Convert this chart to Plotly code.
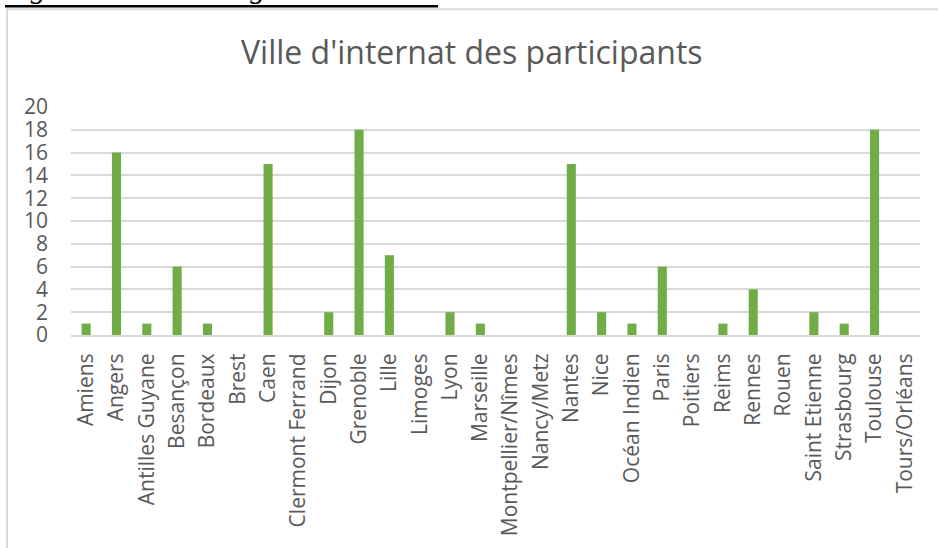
import plotly.graph_objects as go

# ------------------------------------------------------------
# Données : ville d'internat des participants
# ------------------------------------------------------------
villes = [
    "Amiens", "Angers", "Antilles Guyane", "Besançon", "Bordeaux", "Brest",
    "Caen", "Clermont Ferrand", "Dijon", "Grenoble", "Lille", "Limoges",
    "Lyon", "Marseille", "Montpellier/Nîmes", "Nancy/Metz", "Nantes", "Nice",
    "Océan Indien", "Paris", "Poitiers", "Reims", "Rennes", "Rouen",
    "Saint Etienne", "Strasbourg", "Toulouse", "Tours/Orléans",
]
participants = [
    1, 16, 1, 6, 1, 0,
    15, 0, 2, 18, 7, 0,
    2, 1, 0, 0, 15, 2,
    1, 6, 0, 1, 4, 0,
    2, 1, 18, 0,
]
y_ticks = list(range(0, 21, 2))

titre = "Ville d'internat des participants"
legende = "Figure 3 : Ville d'origine d'internat"

# ------------------------------------------------------------
# Géométrie (pixels) -> coordonnées paper
# ------------------------------------------------------------
W, H = 938, 548
L, R, T, B = 71, 920, 107, 338


def px_x(p):
    return (p - L) / (R - L)


def px_y(p):
    return (B - p) / (B - T)


GRIS = "#595959"
GRILLE = "#d9d9d9"
FONT = "Open Sans, Arial, sans-serif"

fig = go.Figure(
    go.Bar(
        x=villes,
        y=participants,
        marker=dict(color="#70AD47", line=dict(width=0)),
    )
)

fig.update_layout(
    width=W,
    height=H,
    margin=dict(l=L, r=W - R, t=T, b=H - B),
    plot_bgcolor="white",
    paper_bgcolor="white",
    bargap=0.70,
    showlegend=False,
    font=dict(family=FONT, color=GRIS, size=21),
    xaxis=dict(
        tickangle=-90,
        showgrid=False,
        showline=True,
        linecolor=GRILLE,
        linewidth=2,
        ticks="",
        ticklabelstandoff=8,
        tickfont=dict(size=21, color=GRIS),
    ),
    yaxis=dict(
        range=[0, 20],
        tickvals=y_ticks,
        showgrid=True,
        gridcolor=GRILLE,
        gridwidth=1.5,
        zeroline=False,
        showline=False,
        ticks="",
        ticklabelstandoff=22,
        tickfont=dict(size=21, color=GRIS),
    ),
)

# titre du graphique
fig.add_annotation(
    text=titre,
    xref="paper", yref="paper",
    x=px_x(472), y=px_y(51),
    xanchor="center", yanchor="middle",
    showarrow=False,
    font=dict(family=FONT, size=32, color=GRIS),
)

# cadre du graphique (coupé à droite et en bas)
fig.add_shape(
    type="rect",
    xref="paper", yref="paper",
    x0=px_x(7), x1=px_x(960),
    y0=px_y(580), y1=px_y(8),
    line=dict(color=GRILLE, width=2),
    fillcolor="rgba(0,0,0,0)",
    layer="below",
)

# légende de la figure (tronquée en haut de l'image)
fig.add_annotation(
    text="<i>" + legende + "</i>",
    xref="paper", yref="paper",
    x=px_x(1), y=px_y(5),
    xanchor="left", yanchor="bottom",
    showarrow=False,
    font=dict(family="Liberation Serif, Times New Roman, serif", size=30, color="black"),
)
fig.add_shape(
    type="line",
    xref="paper", yref="paper",
    x0=px_x(5), x1=px_x(438),
    y0=px_y(5), y1=px_y(5),
    line=dict(color="black", width=2.5),
)

# la page HTML a une marge de 8 px par défaut : on la supprime
fig.write_html(
    "out.html",
    config={"displayModeBar": False},
    post_script="document.body.style.margin='0px';",
)
